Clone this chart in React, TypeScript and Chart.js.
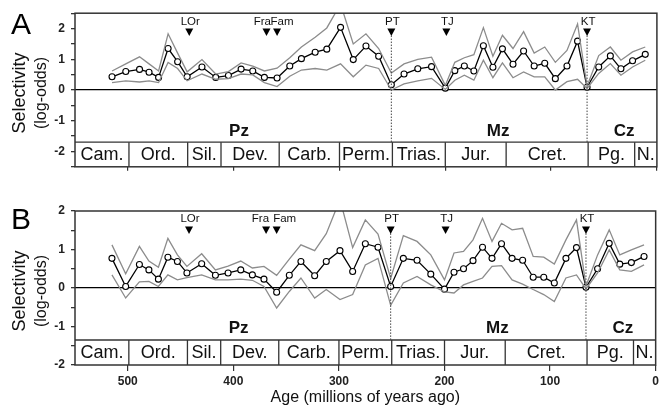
import React, { useEffect, useRef } from 'react';
import { Chart, registerables } from 'chart.js';
Chart.register(...registerables);

// ---------- data ----------
const ages = [515, 502, 489, 480, 471, 462, 453, 444, 430, 417, 405, 393, 382, 371, 359, 347, 336, 323, 312, 299, 287, 275, 263, 251, 239, 226, 213, 200, 191, 182, 173, 164, 155, 146, 136, 126, 116, 106, 96, 85, 75, 66, 55, 44, 34, 23, 11];

const selA = [0.43, 0.60, 0.67, 0.58, 0.41, 1.35, 0.92, 0.43, 0.75, 0.41, 0.47, 0.68, 0.62, 0.41, 0.39, 0.78, 1.02, 1.23, 1.33, 2.04, 0.99, 1.43, 1.10, 0.17, 0.52, 0.69, 0.76, 0.06, 0.63, 0.78, 0.62, 1.44, 0.74, 1.34, 0.84, 1.27, 0.78, 0.87, 0.37, 0.78, 1.59, 0.09, 0.75, 1.11, 0.69, 0.95, 1.16];
const upA = [0.62, 0.85, 1.08, 0.85, 0.62, 1.83, 1.2, 0.59, 0.99, 0.52, 0.6, 0.88, 0.78, 0.62, 0.71, 1.05, 1.4, 1.72, 2.02, 2.8, 1.5, 1.83, 1.35, 0.55, 0.85, 1.0, 1.07, 0.15, 0.9, 1.05, 1.15, 2.03, 1.1, 1.78, 1.35, 1.9, 1.2, 1.4, 0.9, 1.29, 2.15, 0.12, 1.12, 1.4, 0.97, 1.24, 1.4];
const loA = [0.24, 0.3, 0.26, 0.3, 0.24, 0.9, 0.7, 0.3, 0.52, 0.35, 0.37, 0.52, 0.49, 0.24, 0.11, 0.45, 0.65, 0.7, 0.65, 0.85, 0.43, 0.81, 0.7, 0.0, 0.2, 0.3, 0.38, 0.02, 0.32, 0.48, 0.32, 0.97, 0.4, 0.88, 0.4, 0.59, 0.43, 0.43, 0.0, 0.27, 0.35, 0.05, 0.54, 0.86, 0.48, 0.75, 0.97];

const selB = [0.77, 0.04, 0.61, 0.47, 0.23, 0.80, 0.69, 0.39, 0.63, 0.33, 0.39, 0.47, 0.34, 0.23, -0.11, 0.33, 0.69, 0.32, 0.69, 0.97, 0.43, 1.15, 1.06, 0.04, 0.77, 0.72, 0.36, -0.03, 0.41, 0.50, 0.71, 1.06, 0.77, 1.15, 0.77, 0.72, 0.28, 0.28, 0.13, 0.77, 1.05, 0.02, 0.50, 1.16, 0.62, 0.66, 0.82];
const upB = [1.12, 0.37, 1.08, 0.7, 0.54, 1.29, 0.86, 0.56, 0.89, 0.47, 0.57, 0.7, 0.52, 0.56, 0.33, 0.75, 1.12, 0.97, 1.41, 2.3, 1.05, 1.77, 1.4, 0.25, 1.36, 1.21, 0.86, 0.21, 0.91, 0.95, 1.25, 1.81, 1.21, 1.68, 1.51, 1.55, 0.82, 0.8, 0.62, 1.25, 1.77, 0.05, 0.86, 1.51, 0.86, 0.99, 1.12];
const loB = [0.34, -0.26, 0.16, 0.17, 0.04, 0.34, 0.21, 0.27, 0.34, 0.21, 0.21, 0.23, 0.2, 0.04, -0.52, -0.09, 0.26, -0.26, -0.04, -0.3, -0.17, 0.6, 0.77, -0.45, 0.13, 0.3, 0.08, -0.1, -0.13, 0.08, 0.17, 0.26, 0.56, 0.58, 0.21, 0.1, -0.04, -0.17, -0.35, 0.26, 0.34, -0.02, 0.39, 0.99, 0.47, 0.43, 0.6];

const periodNames = ['Cam.', 'Ord.', 'Sil.', 'Dev.', 'Carb.', 'Perm.', 'Trias.', 'Jur.', 'Cret.', 'Pg.', 'N.'];
const periodBounds = [550, 499, 443.5, 412, 357, 300, 250, 200, 142.5, 65, 21, 0];

const eraNames = ['Pz', 'Mz', 'Cz'];
const eraLabelAges = [395, 150, 31];

const eventNames = ['LOr', 'Fra', 'Fam', 'PT', 'TJ', 'KT'];
const eventAges = [442, 369, 359, 251, 199, 66];
const dottedEvents = ['PT', 'KT'];

const xTicks = [500, 400, 300, 200, 100, 0];
const xLabels = ['500', '400', '300', '200', '100', '0'];
const yTicksA = [-2.5, -2, -1.5, -1, -0.5, 0, 0.5, 1, 1.5, 2, 2.5];
const yTicksB = [-2, -1.5, -1, -0.5, 0, 0.5, 1, 1.5, 2];
const yLabeled = [-2, -1, 0, 1, 2];

const FONT = "'Liberation Sans', Arial, Helvetica, sans-serif";

type PanelCfg = {
  letter: string;
  sel: number[];
  up: number[];
  lo: number[];
  yMin: number;
  yMax: number;
  yTicks: number[];
  bandTop: number;
  eraY: number;
  eventY: number;
  showXLabels: boolean;
  top: number;
  height: number;
  padTop: number;
  xAxisH: number;
  fraOff: number;
  famOff: number;
  letterBase: number;
};

const panels: PanelCfg[] = [
  {
    letter: 'A', sel: selA, up: upA, lo: loA, yMin: -2.5, yMax: 2.5, yTicks: yTicksA,
    bandTop: -1.7, eraY: -1.35, eventY: 2.0, showXLabels: false,
    top: 0, height: 180, padTop: 12, xAxisH: 12, fraOff: 4.5, famOff: -6.5, letterBase: 34,
  },
  {
    letter: 'B', sel: selB, up: upB, lo: loB, yMin: -2, yMax: 2, yTicks: yTicksB,
    bandTop: -1.35, eraY: -1.05, eventY: 1.6, showXLabels: true,
    top: 190, height: 217, padTop: 21, xAxisH: 42, fraOff: 3, famOff: -3.5, letterBase: 39,
  },
];

function makeDecor(cfg: PanelCfg) {
  return {
    id: 'decor' + cfg.letter,
    afterDatasetsDraw(chart: any) {
      const { ctx, chartArea: ca, scales } = chart;
      const x = scales.x;
      const y = scales.y;
      ctx.save();
      // band
      const yb = y.getPixelForValue(cfg.bandTop);
      ctx.fillStyle = '#fff';
      ctx.fillRect(ca.left, yb, ca.right - ca.left, ca.bottom - yb);
      ctx.strokeStyle = '#333';
      ctx.lineWidth = 1.3;
      ctx.beginPath();
      ctx.moveTo(ca.left, yb);
      ctx.lineTo(ca.right, yb);
      ctx.stroke();
      for (let i = 1; i < periodBounds.length - 1; i++) {
        const px = x.getPixelForValue(periodBounds[i]);
        ctx.beginPath();
        ctx.moveTo(px, yb);
        ctx.lineTo(px, ca.bottom);
        ctx.stroke();
      }
      ctx.fillStyle = '#111';
      ctx.font = `18px ${FONT}`;
      ctx.textAlign = 'center';
      ctx.textBaseline = 'middle';
      for (let i = 0; i < periodNames.length; i++) {
        const a = x.getPixelForValue(periodBounds[i]);
        const b = x.getPixelForValue(periodBounds[i + 1]);
        ctx.fillText(periodNames[i], (a + b) / 2, (yb + ca.bottom) / 2 + 1);
      }
      // eras
      ctx.font = `bold 17px ${FONT}`;
      for (let i = 0; i < eraNames.length; i++) {
        ctx.fillText(eraNames[i], x.getPixelForValue(eraLabelAges[i]), y.getPixelForValue(cfg.eraY));
      }
      // events
      const yt = y.getPixelForValue(cfg.eventY);
      for (let i = 0; i < eventNames.length; i++) {
        const px = x.getPixelForValue(eventAges[i]);
        if (dottedEvents.includes(eventNames[i])) {
          ctx.save();
          ctx.strokeStyle = '#444';
          ctx.lineWidth = 1;
          ctx.setLineDash([1.5, 1.5]);
          ctx.beginPath();
          ctx.moveTo(px, yt + 7);
          ctx.lineTo(px, yb);
          ctx.stroke();
          ctx.restore();
        }
        ctx.fillStyle = '#000';
        ctx.beginPath();
        ctx.moveTo(px - 4, yt);
        ctx.lineTo(px + 4, yt);
        ctx.lineTo(px, yt + 7.5);
        ctx.closePath();
        ctx.fill();
        ctx.font = `11.5px ${FONT}`;
        ctx.textBaseline = 'alphabetic';
        let tx = px;
        if (eventNames[i] === 'Fra') { ctx.textAlign = 'right'; tx = px + cfg.fraOff; }
        else if (eventNames[i] === 'Fam') { ctx.textAlign = 'left'; tx = px + cfg.famOff; }
        else { ctx.textAlign = 'center'; tx = px + 1; }
        ctx.fillStyle = '#111';
        ctx.fillText(eventNames[i], tx, yt - 4);
      }
      // box
      ctx.strokeStyle = '#333';
      ctx.lineWidth = 1.5;
      ctx.strokeRect(ca.left, ca.top, ca.right - ca.left, ca.bottom - ca.top);
      // y titles
      const yc = (ca.top + ca.bottom) / 2 + 3;
      ctx.fillStyle = '#111';
      ctx.save();
      ctx.translate(25, yc);
      ctx.rotate(-Math.PI / 2);
      ctx.textAlign = 'center';
      ctx.textBaseline = 'alphabetic';
      ctx.font = `18px ${FONT}`;
      ctx.fillText('Selectivity', 0, 0);
      ctx.restore();
      ctx.save();
      ctx.translate(46, yc);
      ctx.rotate(-Math.PI / 2);
      ctx.textAlign = 'center';
      ctx.textBaseline = 'alphabetic';
      ctx.font = `16px ${FONT}`;
      ctx.fillText('(log-odds)', 0, 0);
      ctx.restore();
      // panel letter
      ctx.font = `30px ${FONT}`;
      ctx.textAlign = 'left';
      ctx.textBaseline = 'alphabetic';
      ctx.fillStyle = '#000';
      ctx.fillText(cfg.letter, 11, cfg.letterBase);
      ctx.restore();
    },
  };
}

function Panel({ cfg }: { cfg: PanelCfg }) {
  const ref = useRef<HTMLCanvasElement>(null);
  useEffect(() => {
    const pts = (arr: number[]) => ages.map((a, i) => ({ x: a, y: arr[i] }));
    const chart = new Chart(ref.current as HTMLCanvasElement, {
      type: 'line',
      data: {
        datasets: [
          { data: pts(cfg.up), borderColor: '#8c8c8c', borderWidth: 1.3, pointRadius: 0, fill: false, tension: 0 },
          { data: pts(cfg.lo), borderColor: '#8c8c8c', borderWidth: 1.3, pointRadius: 0, fill: false, tension: 0 },
          {
            data: pts(cfg.sel), borderColor: '#000', borderWidth: 1.3, pointRadius: 3,
            pointBackgroundColor: '#fff', pointBorderColor: '#000', pointBorderWidth: 1.1, fill: false, tension: 0,
          },
        ],
      } as any,
      options: {
        responsive: false,
        maintainAspectRatio: false,
        animation: false,
        layout: { padding: { top: cfg.padTop, right: 1, left: 0, bottom: 0 } },
        plugins: { legend: { display: false }, tooltip: { enabled: false } },
        scales: {
          x: {
            type: 'linear',
            min: 0,
            max: 550,
            reverse: true,
            afterBuildTicks: (s: any) => { s.ticks = xTicks.map((v) => ({ value: v })); },
            afterFit: (s: any) => { s.height = cfg.xAxisH; },
            border: { display: false },
            grid: { drawOnChartArea: false, tickLength: cfg.showXLabels ? 6 : 4, tickColor: '#333', lineWidth: 1.2 },
            ticks: {
              display: cfg.showXLabels,
              autoSkip: false,
              maxRotation: 0,
              padding: 3,
              color: '#222',
              font: { family: FONT, size: 12, weight: 'bold' },
              callback: (v: any) => { const i = xTicks.indexOf(Number(v)); return i >= 0 ? xLabels[i] : ''; },
            },
            title: {
              display: cfg.showXLabels,
              text: 'Age (millions of years ago)',
              color: '#111',
              font: { family: FONT, size: 16 },
              padding: { top: 0, bottom: 0 },
            },
          },
          y: {
            min: cfg.yMin,
            max: cfg.yMax,
            afterBuildTicks: (s: any) => { s.ticks = cfg.yTicks.map((v) => ({ value: v })); },
            afterFit: (s: any) => { s.width = 75; },
            border: { display: false },
            grid: {
              drawOnChartArea: true,
              color: (c: any) => (c.tick && c.tick.value === 0 ? '#000' : 'rgba(0,0,0,0)'),
              tickColor: '#333',
              tickLength: 4,
              lineWidth: 1.3,
            },
            ticks: {
              autoSkip: false,
              padding: 6,
              color: '#222',
              font: { family: FONT, size: 12, weight: 'bold' },
              callback: (v: any) => (yLabeled.includes(Number(v)) ? String(v) : ''),
            },
          },
        },
      } as any,
      plugins: [makeDecor(cfg)],
    });
    return () => chart.destroy();
  }, []);
  return (
    <canvas
      ref={ref}
      width={662}
      height={cfg.height}
      style={{ position: 'absolute', left: 0, top: cfg.top, width: 662, height: cfg.height }}
    />
  );
}

export default function App() {
  return (
    <div style={{ position: 'absolute', left: 0, top: 0, width: 662, height: 407, background: '#fff' }}>
      {panels.map((p) => (
        <Panel key={p.letter} cfg={p} />
      ))}
    </div>
  );
}
